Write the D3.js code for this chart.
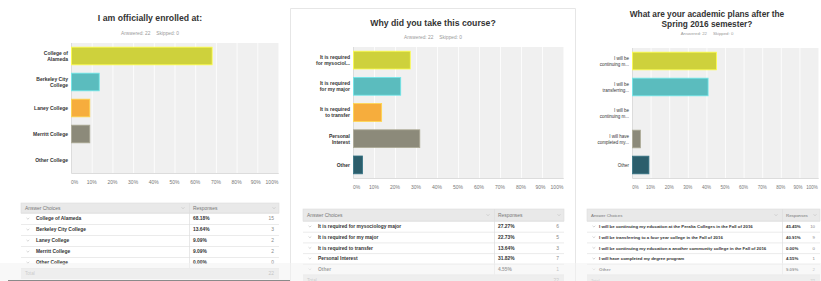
<!DOCTYPE html>
<html>
<head>
<meta charset="utf-8">
<script src="https://cdn.jsdelivr.net/npm/d3@7"></script>
<style>
  body { margin: 0; background: #fff; }
  svg { display: block; font-family: "Liberation Sans", Arial, sans-serif; }
  .title { fill: #333; font-weight: bold; text-anchor: middle; }
  .sub { fill: #9a9a9a; text-anchor: middle; }
  .cat { fill: #333; font-weight: bold; text-anchor: end; }
  .tick-lbl { fill: #777; text-anchor: middle; }
  .th { fill: #777; }
  .td { fill: #333; font-weight: bold; }
  .cnt { fill: #888; text-anchor: end; }
</style>
</head>
<body>
<div id="chart"></div>
<script>
// ---- data ----
const xTicks = [0, 10, 20, 30, 40, 50, 60, 70, 80, 90, 100];
const barColors = ["#ced13c", "#5bbcbe", "#f6ad3d", "#8c8a7a", "#2c5e6c"];

const enrolledTitle = ["I am officially enrolled at:"];
const enrolledLabels = [["College of", "Alameda"], ["Berkeley City", "College"], ["Laney College"], ["Merritt College"], ["Other College"]];
const enrolledChoices = ["College of Alameda", "Berkeley City College", "Laney College", "Merritt College", "Other College"];
const enrolledPct = [68.18, 13.64, 9.09, 9.09, 0.00];
const enrolledCount = [15, 3, 2, 2, 0];

const reasonTitle = ["Why did you take this course?"];
const reasonLabels = [["It is required", "for mysociol..."], ["It is required", "for my major"], ["It is required", "to transfer"], ["Personal", "Interest"], ["Other"]];
const reasonChoices = ["It is required for mysociology major", "It is required for my major", "It is required to transfer", "Personal Interest", "Other"];
const reasonPct = [27.27, 22.73, 13.64, 31.82, 4.55];
const reasonCount = [6, 5, 3, 7, 1];

const plansTitle = ["What are your academic plans after the", "Spring 2016 semester?"];
const plansLabels = [["I will be", "continuing m..."], ["I will be", "transferring..."], ["I will be", "continuing m..."], ["I will have", "completed my..."], ["Other"]];
const plansChoices = ["I will be continuing my education at the Peralta Colleges in the Fall of 2016",
  "I will be transferring to a four year college in the Fall of 2016",
  "I will be continuing my education a another community college in the Fall of 2016",
  "I will have completed my degree program", "Other"];
const plansPct = [45.45, 40.91, 0.00, 4.55, 9.09];
const plansCount = [10, 9, 0, 1, 2];

const answered = 22, skipped = 0;

// ---- layout ----
const W = 821, H = 281;
const svg = d3.select("#chart").append("svg").attr("width", W).attr("height", H);

// frame of the middle card
svg.append("path")
  .attr("d", "M290.5," + H + "V8.5H575.5V" + H)
  .attr("fill", "none").attr("stroke", "#e6e6e6");

const panels = [
  { title: enrolledTitle, labels: enrolledLabels, choices: enrolledChoices, pct: enrolledPct, count: enrolledCount,
    cx: 150, titleY: 21, titleSize: 8.7, subY: 34.5, subSize: 4.8,
    x0: 71, x1: 278, y0: 43, y1: 173, tickY: 184, tickSize: 5, catSize: 5, catBold: true,
    tx0: 21, tx1: 279, tdiv: 189, thY: 203, thH: 10, rowH: 11, tFont: 4.9, tIndent: 15 },
  { title: reasonTitle, labels: reasonLabels, choices: reasonChoices, pct: reasonPct, count: reasonCount,
    cx: 433, titleY: 26, titleSize: 8.7, subY: 38.5, subSize: 4.8,
    x0: 353, x1: 563, y0: 47, y1: 178, tickY: 189, tickSize: 5, catSize: 5, catBold: true,
    tx0: 303, tx1: 564, tdiv: 494, thY: 209, thH: 12, rowH: 10.7, tFont: 4.9, tIndent: 15 },
  { title: plansTitle, labels: plansLabels, choices: plansChoices, pct: plansPct, count: plansCount,
    cx: 707, titleY: 17, titleSize: 8.3, subY: 35, subSize: 4.3,
    x0: 632, x1: 818, y0: 48, y1: 178, tickY: 189, tickSize: 4.5, catSize: 4.5, catBold: false,
    tx0: 587, tx1: 820, tdiv: 782, thY: 209, thH: 12, rowH: 10.7, tFont: 4.35, tIndent: 12 }
];

function drawPanel(p) {
  const g = svg.append("g");

  // title + answered line
  g.selectAll(".title").data(p.title).enter().append("text")
    .attr("class", "title")
    .attr("x", p.cx).attr("y", (d, i) => p.titleY + i * 10)
    .style("font-size", p.titleSize + "px")
    .text(d => d);
  const sub = g.append("text").attr("class", "sub")
    .attr("x", p.cx).attr("y", p.subY).style("font-size", p.subSize + "px");
  sub.append("tspan").text("Answered: " + answered);
  sub.append("tspan").attr("dx", 6).text("Skipped: " + skipped);

  const x = d3.scaleLinear().domain([0, 100]).range([p.x0, p.x1]);
  const y = d3.scaleBand().domain(d3.range(p.pct.length)).range([p.y0, p.y1]).paddingInner(0.32).paddingOuter(0.16);

  // plot background + grid
  g.append("rect").attr("x", p.x0).attr("y", p.y0)
    .attr("width", p.x1 - p.x0).attr("height", p.y1 - p.y0).attr("fill", "#f0f0f0");
  g.append("g")
    .attr("transform", "translate(0," + p.y1 + ")")
    .call(d3.axisBottom(x).tickValues(xTicks).tickSize(-(p.y1 - p.y0)).tickFormat(""))
    .call(a => a.select(".domain").attr("stroke", "#dcdcdc"))
    .call(a => a.selectAll(".tick line").attr("stroke", "#fff").attr("stroke-width", 0.8));
  g.append("line").attr("x1", p.x0 + 0.5).attr("x2", p.x0 + 0.5)
    .attr("y1", p.y0).attr("y2", p.y1).attr("stroke", "#dcdcdc");

  // tick labels
  g.selectAll(".tick-lbl").data(xTicks).enter().append("text")
    .attr("class", "tick-lbl")
    .attr("x", d => d === 0 ? x(d) + 3.5 : d === 100 ? x(d) - 6 : d === 90 ? x(d) - 1.5 : x(d))
    .attr("y", p.tickY).style("font-size", p.tickSize + "px")
    .text(d => d + "%");

  // bars
  g.selectAll(".bar").data(p.pct).enter().append("rect")
    .attr("class", "bar")
    .attr("x", x(0) + 0.5)
    .attr("y", (d, i) => y(i))
    .attr("width", d => Math.max(0, x(d) - x(0) - 0.5))
    .attr("height", y.bandwidth())
    .attr("fill", (d, i) => barColors[i])
    .attr("stroke", (d, i) => d3.color(barColors[i]).brighter(0.6))
    .attr("stroke-width", d => d > 0 ? 0.8 : 0);

  // category labels
  g.selectAll(".cat").data(p.labels).enter().append("text")
    .attr("class", "cat")
    .style("font-size", p.catSize + "px")
    .style("font-weight", p.catBold ? "bold" : "normal")
    .attr("x", p.x0 - 3)
    .attr("y", (d, i) => y(i) + y.bandwidth() / 2 + 1.8 - (d.length - 1) * 3)
    .selectAll("tspan").data(d => d).enter().append("tspan")
    .attr("x", p.x0 - 3).attr("dy", (d, i) => i ? 6 : 0)
    .text(d => d);

  // table
  const t = g.append("g");
  const n = p.choices.length;
  const fs = p.tFont + "px";
  const rowY = i => p.thY + p.thH + i * p.rowH;
  t.append("rect").attr("x", p.tx0).attr("y", p.thY).attr("width", p.tx1 - p.tx0).attr("height", p.thH)
    .attr("fill", "#e9e9e9").attr("stroke", "#dedede").attr("stroke-width", 0.6);
  t.append("rect").attr("x", p.tx0).attr("y", rowY(n)).attr("width", p.tx1 - p.tx0).attr("height", p.rowH)
    .attr("fill", "#e9e9e9");
  t.selectAll(".sep").data(d3.range(n + 1)).enter().append("line")
    .attr("x1", p.tx0).attr("x2", p.tx1)
    .attr("y1", i => rowY(i) + 0.5).attr("y2", i => rowY(i) + 0.5)
    .attr("stroke", "#e2e2e2").attr("stroke-width", 0.7);
  t.append("line").attr("x1", p.tdiv + 0.5).attr("x2", p.tdiv + 0.5)
    .attr("y1", p.thY).attr("y2", rowY(n))
    .attr("stroke", "#dedede").attr("stroke-width", 0.7);

  const thText = p.thY + p.thH / 2 + 1.8;
  t.append("text").attr("class", "th").attr("x", p.tx0 + 4).attr("y", thText).style("font-size", fs).text("Answer Choices");
  t.append("text").attr("class", "th").attr("x", p.tdiv + 4).attr("y", thText).style("font-size", fs).text("Responses");
  [p.tdiv - 6, p.tx1 - 5].forEach(ax => {
    t.append("path").attr("d", "M" + (ax - 1.5) + "," + (thText - 2.6) + "l1.5,1.6l1.5,-1.6")
      .attr("fill", "none").attr("stroke", "#bbb").attr("stroke-width", 0.5);
  });

  const rows = t.selectAll(".row").data(p.choices).enter().append("g")
    .attr("transform", (d, i) => "translate(0," + (rowY(i) + p.rowH / 2 + 1.8) + ")");
  rows.append("path").attr("d", "M" + (p.tx0 + 5.5) + ",-2.4l1.4,1.3l1.4,-1.3")
    .attr("fill", "none").attr("stroke", "#aaa").attr("stroke-width", 0.5);
  rows.append("text").attr("class", "td").attr("x", p.tx0 + p.tIndent).style("font-size", fs).text(d => d);
  rows.append("text").attr("class", "td").attr("x", p.tdiv + 4).style("font-size", fs)
    .text((d, i) => p.pct[i].toFixed(2) + "%");
  rows.append("text").attr("class", "cnt").attr("x", p.tx1 - 5).style("font-size", fs)
    .text((d, i) => p.count[i]);

  t.append("text").attr("class", "th").attr("x", p.tx0 + 4).attr("y", rowY(n) + p.rowH / 2 + 1.8)
    .style("font-size", (p.tFont - 0.3) + "px").style("fill", "#999").text("Total");
  t.append("text").attr("class", "cnt").attr("x", p.tx1 - 5).attr("y", rowY(n) + p.rowH / 2 + 1.8)
    .style("font-size", fs).text(d3.sum(p.count));
}

panels.forEach(drawPanel);

// faded strip along the bottom of the screenshot
svg.append("rect").attr("x", 0).attr("y", 263).attr("width", W).attr("height", H - 263)
  .attr("fill", "#f2f2f2").attr("opacity", 0.55);
svg.append("line").attr("x1", 8).attr("x2", 290).attr("y1", 280.5).attr("y2", 280.5)
  .attr("stroke", "#8a8a8a").attr("stroke-width", 1);
</script>
</body>
</html>
